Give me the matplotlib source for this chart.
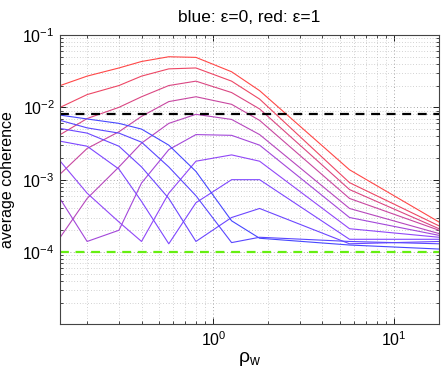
import numpy as np
import matplotlib
matplotlib.use("Agg")
import matplotlib.pyplot as plt
from matplotlib.ticker import LogLocator, NullFormatter

plt.rcParams['font.family'] = ['Liberation Sans', 'DejaVu Sans']
plt.rcParams['mathtext.fontset'] = 'custom'
plt.rcParams['mathtext.rm'] = 'Liberation Sans'
plt.rcParams['mathtext.it'] = 'Liberation Sans'

rho_w = [0.142, 0.2, 0.3, 0.4, 0.566, 0.8, 1.26, 1.8, 5.66, 17.7]
epsilons = [1.0, 0.9, 0.8, 0.7, 0.6, 0.5, 0.4, 0.3, 0.2, 0.1, 0.0]

# average coherence curves, one per epsilon
coh_e10 = [2.0e-2, 2.7e-2, 3.5e-2, 4.3e-2, 5.0e-2, 4.9e-2, 3.1e-2, 1.7e-2, 1.37e-3, 2.6e-4]
coh_e09 = [1.0e-2, 1.5e-2, 2.0e-2, 2.7e-2, 3.4e-2, 3.5e-2, 2.3e-2, 1.3e-2, 9.1e-4, 2.3e-4]
coh_e08 = [4.2e-3, 7.0e-3, 1.0e-2, 1.4e-2, 2.0e-2, 2.3e-2, 1.6e-2, 9.5e-3, 7.3e-4, 2.1e-4]
coh_e07 = [1.2e-3, 2.7e-3, 4.6e-3, 7.5e-3, 1.2e-2, 1.4e-2, 1.1e-2, 6.6e-3, 5.5e-4, 2.0e-4]
coh_e06 = [1.6e-4, 5.5e-4, 1.5e-3, 3.2e-3, 6.0e-3, 8.0e-3, 6.8e-3, 4.2e-3, 4.0e-4, 1.8e-4]
coh_e05 = [5.4e-4, 1.4e-4, 2.0e-4, 9.0e-4, 2.6e-3, 4.2e-3, 4.1e-3, 3.0e-3, 3.0e-4, 1.7e-4]
coh_e04 = [1.8e-3, 6.5e-4, 2.6e-4, 1.4e-4, 6.5e-4, 1.8e-3, 2.2e-3, 1.8e-3, 2.1e-4, 1.6e-4]
coh_e03 = [3.4e-3, 2.9e-3, 1.4e-3, 5.0e-4, 1.3e-4, 4.8e-4, 1.0e-3, 1.0e-3, 1.5e-4, 1.5e-4]
coh_e02 = [5.1e-3, 4.4e-3, 2.9e-3, 1.5e-3, 5.5e-4, 1.4e-4, 3.0e-4, 4.0e-4, 1.3e-4, 1.4e-4]
coh_e01 = [6.6e-3, 5.2e-3, 4.4e-3, 3.3e-3, 1.5e-3, 6.0e-4, 1.35e-4, 1.6e-4, 1.4e-4, 1.3e-4]
coh_e00 = [7.8e-3, 6.9e-3, 6.0e-3, 5.0e-3, 3.0e-3, 1.3e-3, 2.7e-4, 1.55e-4, 1.25e-4, 1.1e-4]

curves = [coh_e10, coh_e09, coh_e08, coh_e07, coh_e06, coh_e05,
          coh_e04, coh_e03, coh_e02, coh_e01, coh_e00]

ref_black = 8.0e-3
ref_green = 1.0e-4

fig = plt.figure(figsize=(4.43, 3.72), dpi=100)
ax = fig.add_axes([0.136, 0.128, 0.855, 0.778])

for eps, c in zip(epsilons, curves):
    base = np.array([eps, 0.0, min(1.0, 1.6 * (1.0 - eps))])
    col = 0.72 * base + 0.28 * np.array([1.0, 1.0, 1.0])
    ax.plot(rho_w, c, color=col, lw=0.8)

ax.axhline(ref_black, color='black', lw=1.6, ls=(0, (4, 3)))
ax.axhline(ref_green, color='#66ee11', lw=1.6, ls=(0, (4, 3)))

ax.set_xscale('log')
ax.set_yscale('log')
ax.set_xlim(rho_w[0], rho_w[-1])
ax.set_ylim(1e-5, 1e-1)

ax.set_yticks([1e-4, 1e-3, 1e-2, 1e-1])
ax.set_yticklabels([r'$\mathregular{10^{-4}}$', r'$\mathregular{10^{-3}}$',
                    r'$\mathregular{10^{-2}}$', r'$\mathregular{10^{-1}}$'])
ax.set_xticks([1, 10])
ax.set_xticklabels([r'$\mathregular{10^{0}}$', r'$\mathregular{10^{1}}$'])
ax.xaxis.set_minor_locator(LogLocator(base=10, subs=np.arange(2, 10), numticks=20))
ax.yaxis.set_minor_locator(LogLocator(base=10, subs=np.arange(2, 10), numticks=20))
ax.xaxis.set_minor_formatter(NullFormatter())
ax.yaxis.set_minor_formatter(NullFormatter())

ax.tick_params(which='both', direction='in', top=True, right=True, labelsize=11.5)
ax.tick_params(which='major', length=4, width=0.6, pad=4)
ax.tick_params(which='minor', length=2, width=0.5)

ax.grid(True, which='major', color='#888888', ls=(0, (1, 3)), lw=0.6)
ax.grid(True, which='minor', color='#aaaaaa', ls=(0, (1, 3)), lw=0.5)

for s in ax.spines.values():
    s.set_color('#444444')
    s.set_linewidth(0.8)

ax.set_title('blue: \u03b5=0, red: \u03b5=1', fontsize=12.5, pad=9)
ax.set_xlabel(r'$\mathregular{\rho_w}$', fontsize=14, labelpad=1)
ax.set_ylabel('average coherence', fontsize=11.5, labelpad=5)

fig.savefig('out.png', dpi=100)
